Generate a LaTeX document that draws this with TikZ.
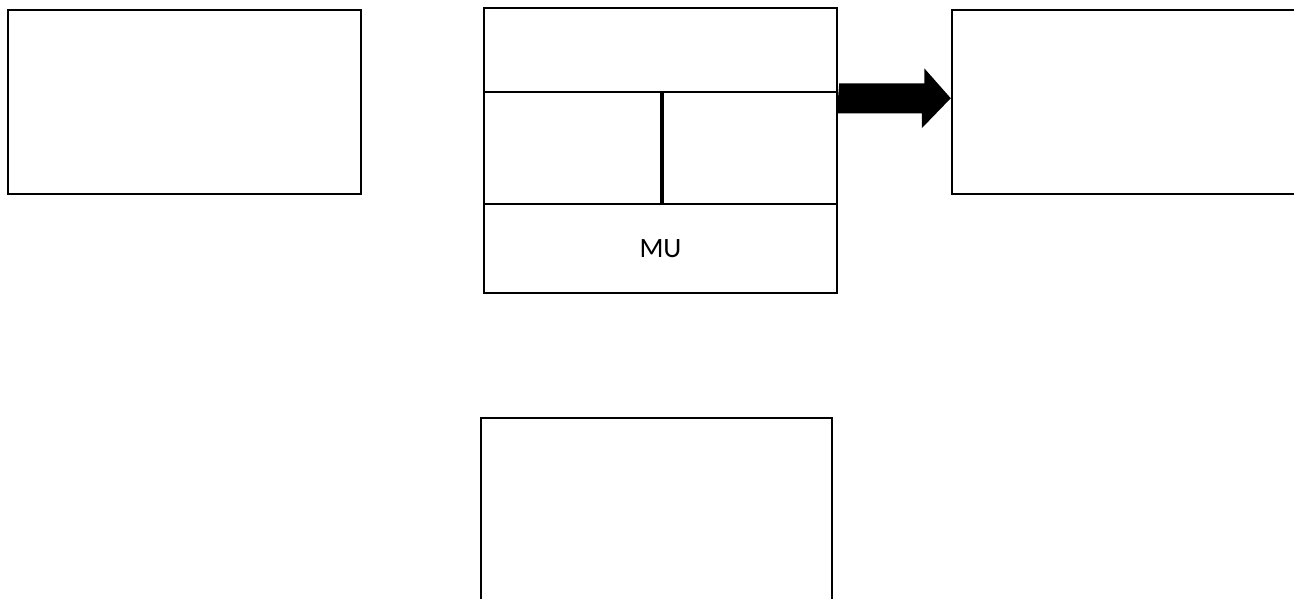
\documentclass[tikz,border=0pt]{standalone}
\usepackage{fontspec}
\setsansfont{Carlito}
\usetikzlibrary{calc}
\tikzset{blockbox/.style={draw, line width=2.5pt, inner sep=0pt, font=\sffamily\fontsize{28}{32}\selectfont}}

\begin{document}
\begin{tikzpicture}[x=1pt, y=-1pt]
			%%%%% START %%%%%
			\useasboundingbox (0, 0) rectangle (1294, 598);
			
			\node[blockbox, minimum width=353pt, minimum height=184pt] (inbox) at (184.5, 102) {};
			
			\node[blockbox, minimum width=353pt, minimum height=84pt] (memtop) at (660.5, 50) {};
			\node[blockbox, minimum width=177pt, minimum height=112pt] (regleft) at (572.5, 148) {};
			\node[blockbox, minimum width=176pt, minimum height=112pt] (regright) at (749, 148) {};
			\node[blockbox, minimum width=353pt, minimum height=89pt] (mu) at (660.5, 248.5) {MU};
			\draw[line width=3.5pt] (regleft.north east) -- (regleft.south east);
			
			\node[blockbox, minimum width=350pt, minimum height=184pt] (outbox) at (1127, 102) {};
			
			\node[blockbox, minimum width=351pt, minimum height=192pt] (lowbox) at (656.5, 514) {};
			
			\coordinate (arrowtail) at ([yshift=-5pt]memtop.south east);
			\coordinate (arrowtip) at (arrowtail -| outbox.west);
			\fill (arrowtail) ++(1, -15) -- ++(85, 0) -- ++(0, -15) -- (arrowtip)
				-- ++(-29, 30) -- ++(0, -15) -- ++(-85, 0) -- cycle;
			
			%%%%% END %%%%%
\end{tikzpicture}
\end{document}
